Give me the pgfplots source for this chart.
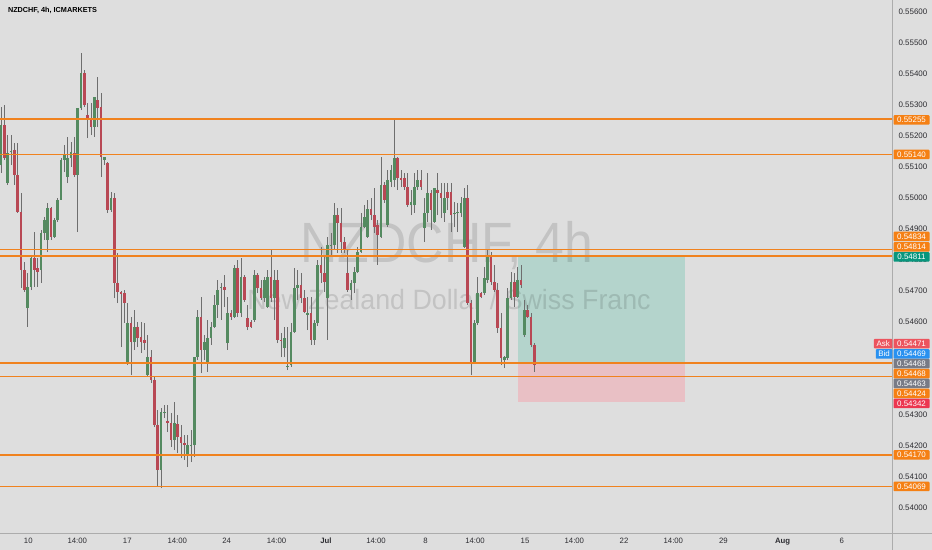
\documentclass[border=0pt]{standalone}
\usepackage{pgfplots}
\pgfplotsset{compat=1.18}
\usepackage{pgfplotstable}
\usepackage{fontspec}
\setmainfont{Liberation Sans}
\definecolor{bg}{RGB}{222,222,222}
\definecolor{sep}{RGB}{172,172,172}
\definecolor{cup}{RGB}{84,138,96}
\definecolor{cdn}{RGB}{184,72,84}
\definecolor{wick}{RGB}{110,110,110}
\definecolor{oline}{RGB}{240,130,30}
\definecolor{obox}{RGB}{245,128,20}
\definecolor{tpgreen}{RGB}{8,150,125}
\definecolor{askred}{RGB}{236,84,94}
\definecolor{bidblue}{RGB}{41,145,240}
\definecolor{pgray}{RGB}{120,123,134}
\definecolor{slred}{RGB}{236,55,80}
\definecolor{zgreen}{RGB}{180,212,204}
\definecolor{zred}{RGB}{233,192,197}
\definecolor{txt}{RGB}{45,45,50}

% bullish candles: index, open, high, low, close
\pgfplotstableread{
i o h l c
1 0.55106 0.55294 0.55081 0.55235
3 0.55048 0.55203 0.55042 0.55145
4 0.55148 0.55203 0.55106 0.55152
9 0.54645 0.54758 0.54584 0.54713
10 0.54713 0.54810 0.54703 0.54806
13 0.54768 0.54897 0.54726 0.54887
14 0.54887 0.54939 0.54865 0.54929
15 0.54865 0.54984 0.54826 0.54968
17 0.54874 0.54935 0.54871 0.54929
18 0.54929 0.55000 0.54923 0.54994
19 0.54994 0.55129 0.54994 0.55123
20 0.55123 0.55171 0.55084 0.55139
21 0.55068 0.55197 0.55048 0.55129
22 0.55129 0.55181 0.55100 0.55148
24 0.55074 0.55290 0.54890 0.55290
25 0.55290 0.55468 0.55284 0.55403
29 0.55229 0.55326 0.55197 0.55326
32 0.55123 0.55132 0.55106 0.55132
34 0.54961 0.55019 0.54955 0.55000
39 0.54468 0.54661 0.54461 0.54597
41 0.54535 0.54639 0.54510 0.54584
45 0.54429 0.54558 0.54423 0.54487
49 0.54123 0.54323 0.54064 0.54310
50 0.54306 0.54332 0.54290 0.54310
53 0.54219 0.54342 0.54187 0.54274
57 0.54171 0.54235 0.54132 0.54203
58 0.54200 0.54252 0.54148 0.54203
59 0.54203 0.54487 0.54164 0.54487
60 0.54487 0.54639 0.54477 0.54616
62 0.54510 0.54558 0.54477 0.54535
63 0.54471 0.54607 0.54439 0.54548
64 0.54548 0.54600 0.54526 0.54584
65 0.54584 0.54687 0.54581 0.54655
66 0.54655 0.54735 0.54613 0.54703
67 0.54710 0.54726 0.54607 0.54713
69 0.54532 0.54681 0.54510 0.54629
71 0.54616 0.54784 0.54613 0.54774
73 0.54629 0.54806 0.54616 0.54745
77 0.54607 0.54768 0.54600 0.54752
80 0.54677 0.54745 0.54665 0.54735
81 0.54648 0.54768 0.54645 0.54745
83 0.54677 0.54768 0.54607 0.54735
86 0.54516 0.54584 0.54487 0.54548
87 0.54455 0.54584 0.54445 0.54458
88 0.54461 0.54597 0.54455 0.54568
89 0.54568 0.54774 0.54565 0.54710
90 0.54710 0.54768 0.54671 0.54719
93 0.54623 0.54681 0.54574 0.54629
95 0.54542 0.54607 0.54526 0.54597
96 0.54597 0.54800 0.54587 0.54784
99 0.54677 0.54874 0.54542 0.54848
100 0.54845 0.54887 0.54816 0.54848
101 0.54848 0.54984 0.54832 0.54945
106 0.54703 0.54735 0.54671 0.54726
107 0.54726 0.54777 0.54694 0.54761
108 0.54761 0.54842 0.54758 0.54826
109 0.54826 0.54952 0.54823 0.54906
110 0.54906 0.54977 0.54903 0.54939
111 0.54874 0.54994 0.54871 0.54965
115 0.54874 0.55132 0.54871 0.55042
117 0.54913 0.55090 0.54906 0.55058
118 0.55052 0.55106 0.55035 0.55090
119 0.55058 0.55258 0.55035 0.55129
124 0.54977 0.55026 0.54945 0.54987
125 0.54977 0.55081 0.54952 0.55035
126 0.55035 0.55090 0.55026 0.55058
128 0.54903 0.55000 0.54858 0.54952
129 0.54952 0.55081 0.54923 0.55016
131 0.54923 0.55032 0.54919 0.55032
134 0.54952 0.55048 0.54923 0.55000
137 0.54948 0.54987 0.54906 0.54952
138 0.54952 0.54984 0.54890 0.54955
139 0.54952 0.55003 0.54939 0.54984
140 0.54842 0.55032 0.54839 0.55000
143 0.54468 0.54607 0.54465 0.54597
144 0.54597 0.54745 0.54590 0.54694
146 0.54694 0.54777 0.54687 0.54742
147 0.54735 0.54832 0.54726 0.54810
152 0.54477 0.54490 0.54452 0.54487
153 0.54484 0.54710 0.54477 0.54677
154 0.54677 0.54761 0.54671 0.54729
156 0.54681 0.54777 0.54677 0.54735
158 0.54558 0.54671 0.54552 0.54639
}\up

% bearish candles: index, open, high, low, close
\pgfplotstableread{
i o h l c
2 0.55235 0.55300 0.55123 0.55129
5 0.55155 0.55177 0.55042 0.55074
6 0.55074 0.55177 0.54952 0.54955
7 0.54955 0.55016 0.54710 0.54768
8 0.54768 0.54794 0.54697 0.54703
11 0.54806 0.54890 0.54713 0.54768
12 0.54774 0.54806 0.54713 0.54761
16 0.54968 0.54972 0.54865 0.54874
23 0.55145 0.55197 0.55068 0.55074
26 0.55403 0.55413 0.55293 0.55300
27 0.55268 0.55306 0.55193 0.55252
28 0.55258 0.55306 0.55203 0.55229
30 0.55316 0.55390 0.55229 0.55290
31 0.55293 0.55339 0.55068 0.55132
33 0.55113 0.55116 0.54952 0.54961
35 0.55000 0.55016 0.54677 0.54726
36 0.54726 0.54823 0.54661 0.54697
37 0.54697 0.54700 0.54519 0.54690
38 0.54694 0.54703 0.54597 0.54661
40 0.54597 0.54616 0.54429 0.54535
42 0.54584 0.54600 0.54519 0.54548
43 0.54552 0.54600 0.54500 0.54535
44 0.54542 0.54597 0.54510 0.54532
46 0.54487 0.54510 0.54403 0.54413
47 0.54413 0.54423 0.54261 0.54268
48 0.54268 0.54316 0.54068 0.54123
51 0.54281 0.54332 0.54245 0.54274
52 0.54274 0.54306 0.54197 0.54219
54 0.54271 0.54300 0.54177 0.54229
55 0.54229 0.54268 0.54161 0.54210
56 0.54210 0.54235 0.54155 0.54203
61 0.54616 0.54681 0.54435 0.54510
68 0.54713 0.54752 0.54648 0.54703
70 0.54629 0.54639 0.54607 0.54616
72 0.54774 0.54800 0.54616 0.54629
74 0.54745 0.54752 0.54665 0.54671
75 0.54613 0.54655 0.54574 0.54584
76 0.54600 0.54607 0.54581 0.54584
78 0.54752 0.54758 0.54694 0.54710
79 0.54710 0.54735 0.54671 0.54677
82 0.54745 0.54832 0.54665 0.54677
84 0.54735 0.54768 0.54532 0.54542
85 0.54542 0.54565 0.54487 0.54539
91 0.54719 0.54758 0.54661 0.54677
92 0.54677 0.54703 0.54629 0.54632
94 0.54629 0.54681 0.54526 0.54542
97 0.54784 0.54842 0.54726 0.54758
98 0.54758 0.54810 0.54697 0.54729
102 0.54945 0.54968 0.54823 0.54919
103 0.54919 0.54968 0.54823 0.54858
104 0.54858 0.54874 0.54823 0.54832
105 0.54758 0.54832 0.54697 0.54703
112 0.54965 0.55000 0.54929 0.54945
113 0.54945 0.55032 0.54887 0.54906
114 0.54913 0.54929 0.54784 0.54881
116 0.55042 0.55052 0.54984 0.54994
120 0.55129 0.55132 0.55026 0.55065
121 0.55065 0.55090 0.55035 0.55058
122 0.55065 0.55081 0.55026 0.55035
123 0.55035 0.55081 0.54971 0.54977
127 0.55058 0.55090 0.55026 0.55035
130 0.55016 0.55026 0.54897 0.54961
132 0.55026 0.55081 0.54945 0.55016
133 0.55016 0.55048 0.54935 0.55000
135 0.55019 0.55048 0.54961 0.55000
136 0.55019 0.55048 0.54890 0.54945
141 0.55000 0.55042 0.54655 0.54661
142 0.54661 0.54671 0.54429 0.54468
145 0.54694 0.54697 0.54677 0.54681
148 0.54810 0.54826 0.54719 0.54729
149 0.54729 0.54784 0.54697 0.54703
150 0.54703 0.54726 0.54565 0.54581
151 0.54581 0.54629 0.54461 0.54484
155 0.54729 0.54758 0.54648 0.54681
157 0.54735 0.54784 0.54710 0.54719
159 0.54639 0.54655 0.54613 0.54616
160 0.54616 0.54629 0.54519 0.54526
161 0.54526 0.54532 0.54439 0.54461
}\down

% horizontal levels: start index, price, span
\pgfplotstableread{
x p u
0.7 0.55255 267.6
0.7 0.55140 267.6
0.7 0.54834 267.6
0.7 0.54814 267.6
0.7 0.54468 267.6
0.7 0.54424 267.6
0.7 0.54170 267.6
0.7 0.54069 267.6
}\levels

\tikzset{pl/.style={fill=#1, text=white, font=\fontsize{8}{9}\selectfont, minimum width=36bp, minimum height=9.5bp, inner sep=0pt, anchor=west, rounded corners=0.8bp}}

\begin{document}
\begin{tikzpicture}[x=1bp,y=1bp]
\useasboundingbox (0,0) rectangle (932,550);
\fill[bg] (0,0) rectangle (932,550);
\begin{axis}[
  at={(0bp,17bp)}, anchor=south west, scale only axis,
  width=892bp, height=533bp,
  xmin=0.7, xmax=268.3, ymin=0.539194, ymax=0.556387,
  axis x line*=bottom, axis y line*=right,
  axis line style={draw=none},
  major tick length=0pt,
  scaled y ticks=false,
  xtick={9.19,23.89,38.89,53.89,68.71,83.65,98.51,113.5,128.35,143.2,158.2,173.0,187.9,202.7,217.7,235.5,253.2},
  xticklabels={10,14:00,17,14:00,24,14:00,\textbf{Jul},14:00,8,14:00,15,14:00,22,14:00,29,\textbf{Aug},6},
  ytick={0.540,0.541,0.542,0.543,0.544,0.545,0.546,0.547,0.548,0.549,0.550,0.551,0.552,0.553,0.554,0.555,0.556},
  yticklabel style={font=\fontsize{8}{9}\selectfont, text=txt, anchor=west, xshift=3bp,
    /pgf/number format/fixed, /pgf/number format/fixed zerofill,
    /pgf/number format/precision=5, /pgf/number format/assume math mode=true},
  xticklabel style={font=\fontsize{7.8}{9}\selectfont, text=txt, yshift=-1.5bp},
  clip=true,
]
% position tool zones
\addplot[draw=none, fill=zgreen] coordinates {(156.1,0.54811) (206.2,0.54811) (206.2,0.54463) (156.1,0.54463)} -- cycle;
\addplot[draw=none, fill=zred] coordinates {(156.1,0.54463) (206.2,0.54463) (206.2,0.54342) (156.1,0.54342)} -- cycle;
% watermark
\node[anchor=base, text=black, opacity=0.12, font=\fontsize{57}{60}\selectfont] at (axis cs:134.8,0.547935) {\scalebox{0.91}[1]{NZDCHF, 4h}};
\node[anchor=base, text=black, opacity=0.12, font=\fontsize{28}{30}\selectfont] at (axis cs:135.4,0.546387) {\scalebox{0.96}[1]{New Zealand Dollar / Swiss Franc}};
% candles
\addplot[wick, line width=0.8bp, quiver={u=0, v=\thisrow{h}-\thisrow{l}}] table[x=i, y=l] {\up};
\addplot[wick, line width=0.8bp, quiver={u=0, v=\thisrow{h}-\thisrow{l}}] table[x=i, y=l] {\down};
\addplot[cup, line width=2.4bp, quiver={u=0, v=\thisrow{c}-\thisrow{o}}] table[x=i, y=o] {\up};
\addplot[cdn, line width=2.4bp, quiver={u=0, v=\thisrow{c}-\thisrow{o}}] table[x=i, y=o] {\down};
% horizontal levels
\addplot[oline, line width=1.7bp, quiver={u=\thisrow{u}, v=0}] table[x=x, y=p] {\levels};
\end{axis}
% separators
\draw[sep, line width=0.8bp] (0,17) -- (932,17);
\draw[sep, line width=0.8bp] (892,0) -- (892,550);
% title
\node[anchor=west, font=\bfseries\fontsize{7.3}{8}\selectfont, text=black] at (4.5,540) {NZDCHF, 4h, ICMARKETS};
% price labels on the scale
\node[pl=obox] at (893.3,430) {0.55255};
\node[pl=obox] at (893.3,395.5) {0.55140};
\node[pl=obox] at (893.3,313.5) {0.54834};
\node[pl=obox] at (893.3,303) {0.54814};
\node[pl=tpgreen] at (893.3,293) {0.54811};
\node[pl=askred] at (893.3,206.3) {0.54471};
\node[pl=bidblue] at (893.3,196) {0.54469};
\node[pl=pgray] at (893.3,186.3) {0.54468};
\node[pl=obox] at (893.3,176.3) {0.54468};
\node[pl=pgray] at (893.3,166.5) {0.54463};
\node[pl=obox] at (893.3,156.5) {0.54424};
\node[pl=slred] at (893.3,146.5) {0.54342};
\node[pl=obox] at (893.3,95) {0.54170};
\node[pl=obox] at (893.3,63.5) {0.54069};
\node[fill=askred, text=white, font=\fontsize{8}{9}\selectfont, minimum height=9.5bp, inner sep=0pt, minimum width=18.5bp, anchor=east, rounded corners=0.8bp] at (892.6,206.3) {Ask};
\node[fill=bidblue, text=white, font=\fontsize{8}{9}\selectfont, minimum height=9.5bp, inner sep=0pt, minimum width=16.5bp, anchor=east, rounded corners=0.8bp] at (892.6,196) {Bid};
\end{tikzpicture}
\end{document}
